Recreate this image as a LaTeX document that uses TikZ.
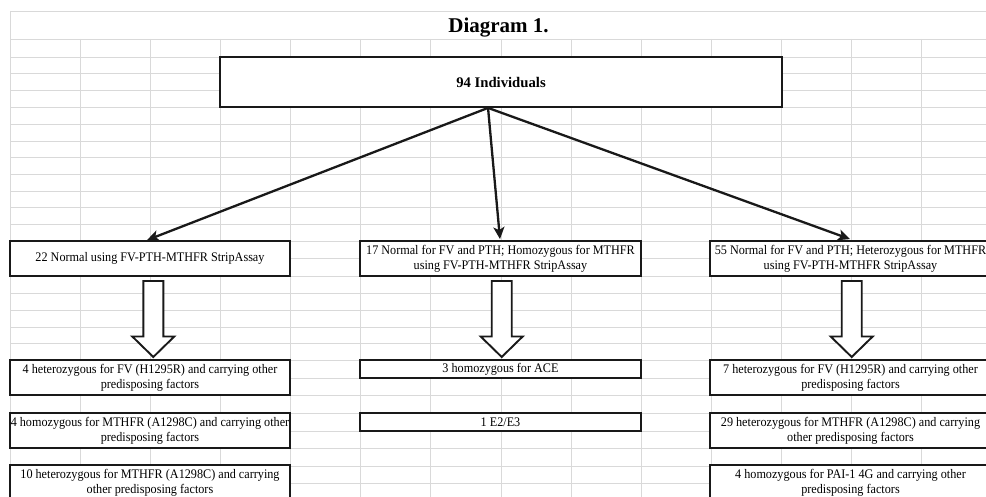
\documentclass[tikz,border=0pt]{standalone}
\usepackage{fontspec}
\setmainfont{Liberation Serif}
\newfontfamily\cellfont[FakeStretch=0.93]{Liberation Serif}
\usetikzlibrary{arrows.meta,calc}
\begin{document}
\begin{tikzpicture}[x=1pt,y=-1pt,
  gridline/.style={draw=black!15, line width=0.8pt},
  cell/.style={draw=black!90, line width=1.8pt, fill=white, inner sep=1pt,
    align=center, font=\cellfont\fontsize{13.1}{15}\selectfont,
    minimum width=280pt},
  conn/.style={draw=black!90, line width=2.3pt,
    -{Stealth[length=12pt,width=11pt,inset=3pt]}},
  blockdown/.pic={\draw[draw=black!90, line width=1.9pt, fill=white, line join=miter]
    (-10,0) -- (10,0) -- (10,55.5) -- (21,55.5) -- (0,76) -- (-21,55.5) -- (-10,55.5) -- cycle;}
]
\useasboundingbox (0,0) rectangle (986,497);
\clip (0,0) rectangle (986,497);
\fill[white] (0,0) rectangle (986,497);

% spreadsheet grid
\draw[gridline] (10,11) -- (986,11);
\draw[gridline] (10,11) -- (10,497);
\foreach \y in {39,57,73,90,107,124,141,157,174,191,207,224,241,258,276,293,310,327,343,360,378,395,413,431,448,466,483}
  \draw[gridline] (10,\y) -- (986,\y);
\foreach \x in {80,150,220,290,360,430,501,571,641,711,781,851,921}
  \draw[gridline] (\x,39) -- (\x,497);

% title
\node[font=\bfseries\fontsize{21}{24}\selectfont, anchor=base, inner sep=0pt] (title) at (498.5,33) {Diagram 1.};

% top box
\node[cell, minimum width=562pt, minimum height=50pt,
  font=\bfseries\fontsize{14.7}{17}\selectfont] (top) at (501,82) {94 Individuals};

% second level
\node[cell, minimum height=35pt] (L0) at (150,258.5) {22 Normal using FV-PTH-MTHFR StripAssay};
\node[cell, minimum width=281pt, minimum height=35pt] (M0) at (500.5,258.5)
  {17 Normal for FV and PTH; Homozygous for MTHFR\\using FV-PTH-MTHFR StripAssay};
\node[cell, minimum width=281pt, minimum height=35pt] (R0) at (850.5,258.5)
  {55 Normal for FV and PTH; Heterozygous for MTHFR\\using FV-PTH-MTHFR StripAssay};

% third level
\node[cell, minimum height=35pt] (L1) at (150,377.5)
  {4 heterozygous for FV (H1295R) and carrying other\\predisposing factors};
\node[cell, minimum height=35pt] (L2) at (150,430.5)
  {4 homozygous for MTHFR (A1298C) and carrying other\\predisposing factors};
\node[cell, minimum height=35pt] (L3) at (150,482.5)
  {10 heterozygous for MTHFR (A1298C) and carrying\\other predisposing factors};

\node[cell, minimum width=281pt, minimum height=18pt] (M1) at (500.5,369) {3 homozygous for ACE};
\node[cell, minimum width=281pt, minimum height=18pt] (M2) at (500.5,422) {1 E2/E3};

\node[cell, minimum width=281pt, minimum height=35pt] (R1) at (850.5,377.5)
  {7 heterozygous for FV (H1295R) and carrying other\\predisposing factors};
\node[cell, minimum width=281pt, minimum height=35pt] (R2) at (850.5,430.5)
  {29 heterozygous for MTHFR (A1298C) and carrying\\other predisposing factors};
\node[cell, minimum width=281pt, minimum height=35pt] (R3) at (850.5,482.5)
  {4 homozygous for PAI-1 4G and carrying other\\predisposing factors};

% thin arrows from the top box
\coordinate (src) at ($(top.south west)!0.477!(top.south east)$);
\draw[conn] (src) -- ($(L0.north)+(-3,0)$);
\draw[conn] (src) -- ($(M0.north)+(-0.5,-1)$);
\draw[conn] (src) -- ($(R0.north)+(-0.5,-1)$);

% block arrows
\pic at (153.3,281) {blockdown};
\pic at (501.7,281) {blockdown};
\pic at (851.7,281) {blockdown};
\end{tikzpicture}
\end{document}
